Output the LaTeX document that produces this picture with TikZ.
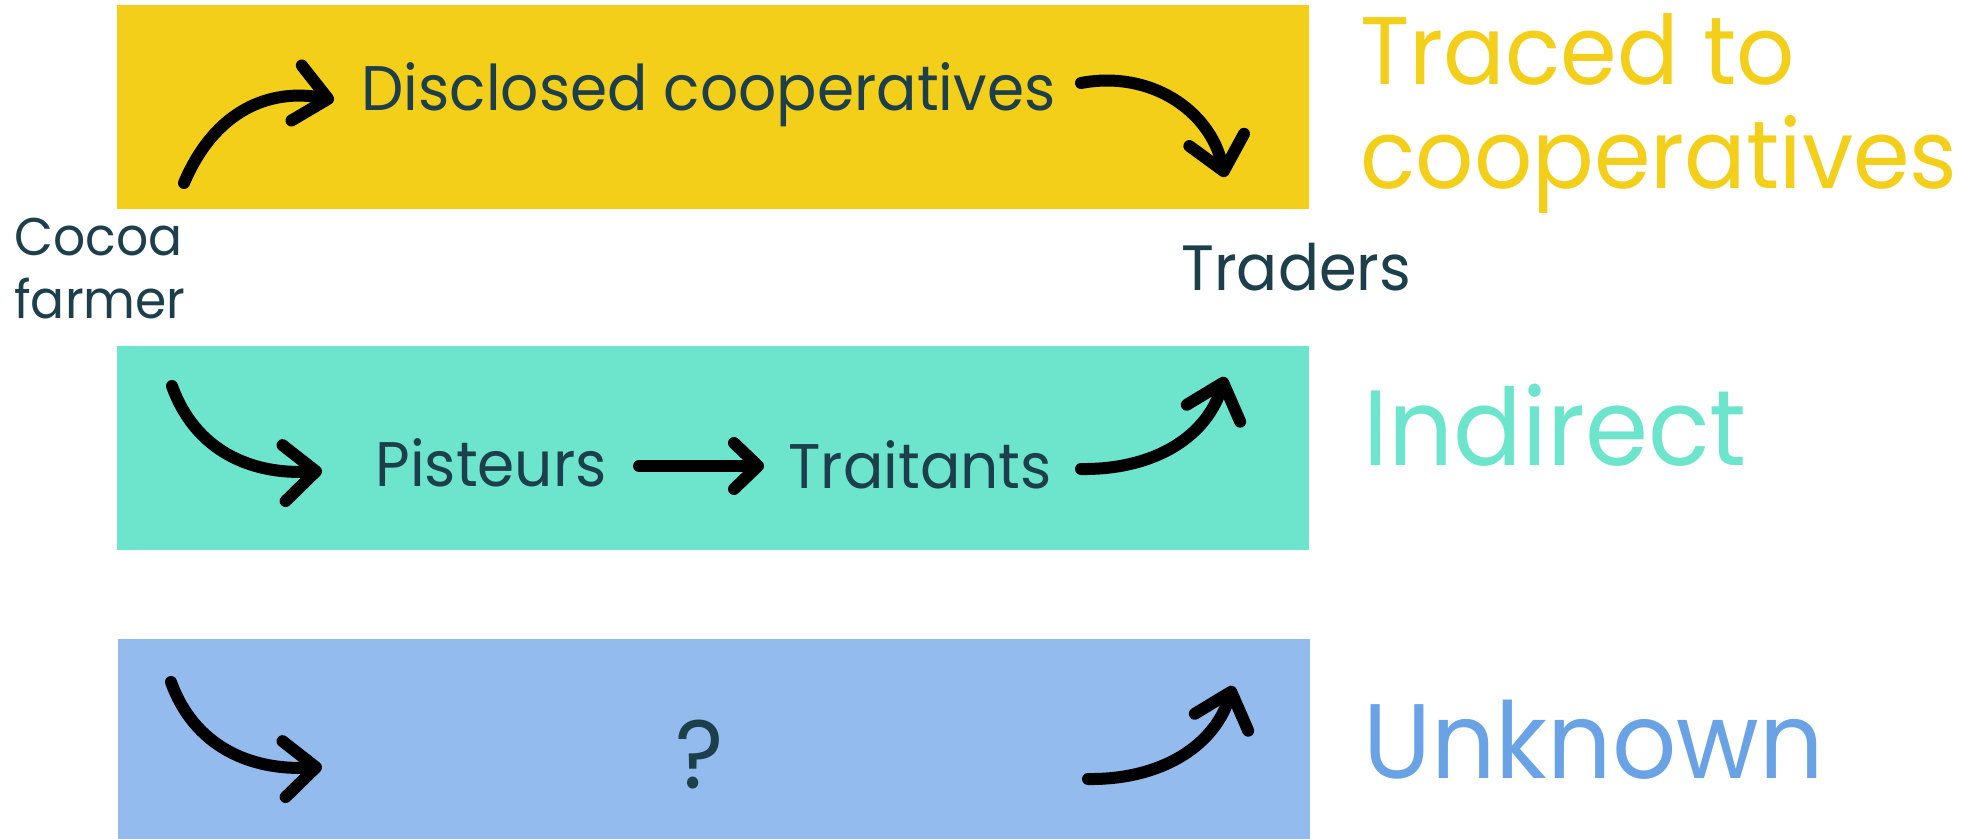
\documentclass[tikz,border=0pt]{standalone}
\usepackage{fontspec}
\setmainfont{Poppins}[FakeStretch=0.95]
\usetikzlibrary{arrows.meta}
\definecolor{coopyellow}{HTML}{F3CF1A}
\definecolor{indirectteal}{HTML}{6CE5CC}
\definecolor{unknownblue}{HTML}{94BBED}
\definecolor{unknownlabel}{HTML}{6AA2E6}
\definecolor{inkblue}{HTML}{1C3F4B}

\begin{document}
\begin{tikzpicture}[x=0.5pt, y=-0.5pt,
        txt/.style = {anchor=base west, inner sep=0pt, text=inkblue, font=\fontsize{31.5}{38}\selectfont},
        tag/.style = {anchor=base west, inner sep=0pt, text=#1, font=\fontsize{53.5}{60}\selectfont},
        flow/.style = {line width=6pt, line cap=round, line join=round,
            -{Straight Barb[length=16pt, width=28pt, round]}}]
    \useasboundingbox (0,0) rectangle (1987,839);
    % bands
    \fill[coopyellow]   (117,5)   rectangle (1309,209);
    \fill[indirectteal] (117,346) rectangle (1309,550);
    \fill[unknownblue]  (118,639) rectangle (1310,839);

    % actors (two-line nodes sit on their last line)
    \node[txt, align=left, font=\fontsize{26.5}{31.75}\selectfont] (farmer) at (14,319) {Cocoa\\farmer};
    \node[txt] (coops)     at (361,111)  {Disclosed cooperatives};
    \node[txt] (pisteurs)  at (375,487)  {Pisteurs};
    \node[txt] (traitants) at (788,488)  {Traitants};
    \node[txt, font=\fontsize{32}{38}\selectfont] (traders) at (1181,291) {Traders};
    \node[txt, anchor=base, font=\fontsize{48.5}{58}\selectfont] (unknown) at (700,788) {?};

    % route labels
    \node[tag=coopyellow, align=left, font=\fontsize{48}{52}\selectfont] (traced) at (1360,189) {Traced to\\cooperatives};
    \node[tag=indirectteal] (indirect) at (1363,466) {Indirect};
    \node[tag=unknownlabel, font=\fontsize{53}{60}\selectfont] (unknowntag) at (1363,778) {Unknown};

    % arrow ends
    \coordinate (a1) at (184,183);   \coordinate (b1) at (334,100);
    \coordinate (a2) at (1081,83);   \coordinate (b2) at (1225,177);
    \coordinate (a3) at (172,386);   \coordinate (b3) at (322,471);
    \coordinate (a4) at (639,466);   \coordinate (b4) at (764,466);
    \coordinate (a5) at (1081,469);  \coordinate (b5) at (1225,377);
    \coordinate (a6) at (171,682);   \coordinate (b6) at (322,767);
    \coordinate (a7) at (1088,779);  \coordinate (b7) at (1233,686);

    \draw[flow] (a1) .. controls (215,110) and (270,88) .. (b1);
    \draw[flow] (a2) .. controls (1150,70) and (1210,110) .. (b2);
    \draw[flow] (a3) .. controls (195,450) and (250,475) .. (b3);
    \draw[flow, -{Straight Barb[length=12pt, width=23pt, round]}] (a4) -- (b4);
    \draw[flow] (a5) .. controls (1150,470) and (1205,440) .. (b5);
    \draw[flow] (a6) .. controls (194,746) and (250,771) .. (b6);
    \draw[flow] (a7) .. controls (1157,780) and (1213,749) .. (b7);
\end{tikzpicture}
\end{document}
